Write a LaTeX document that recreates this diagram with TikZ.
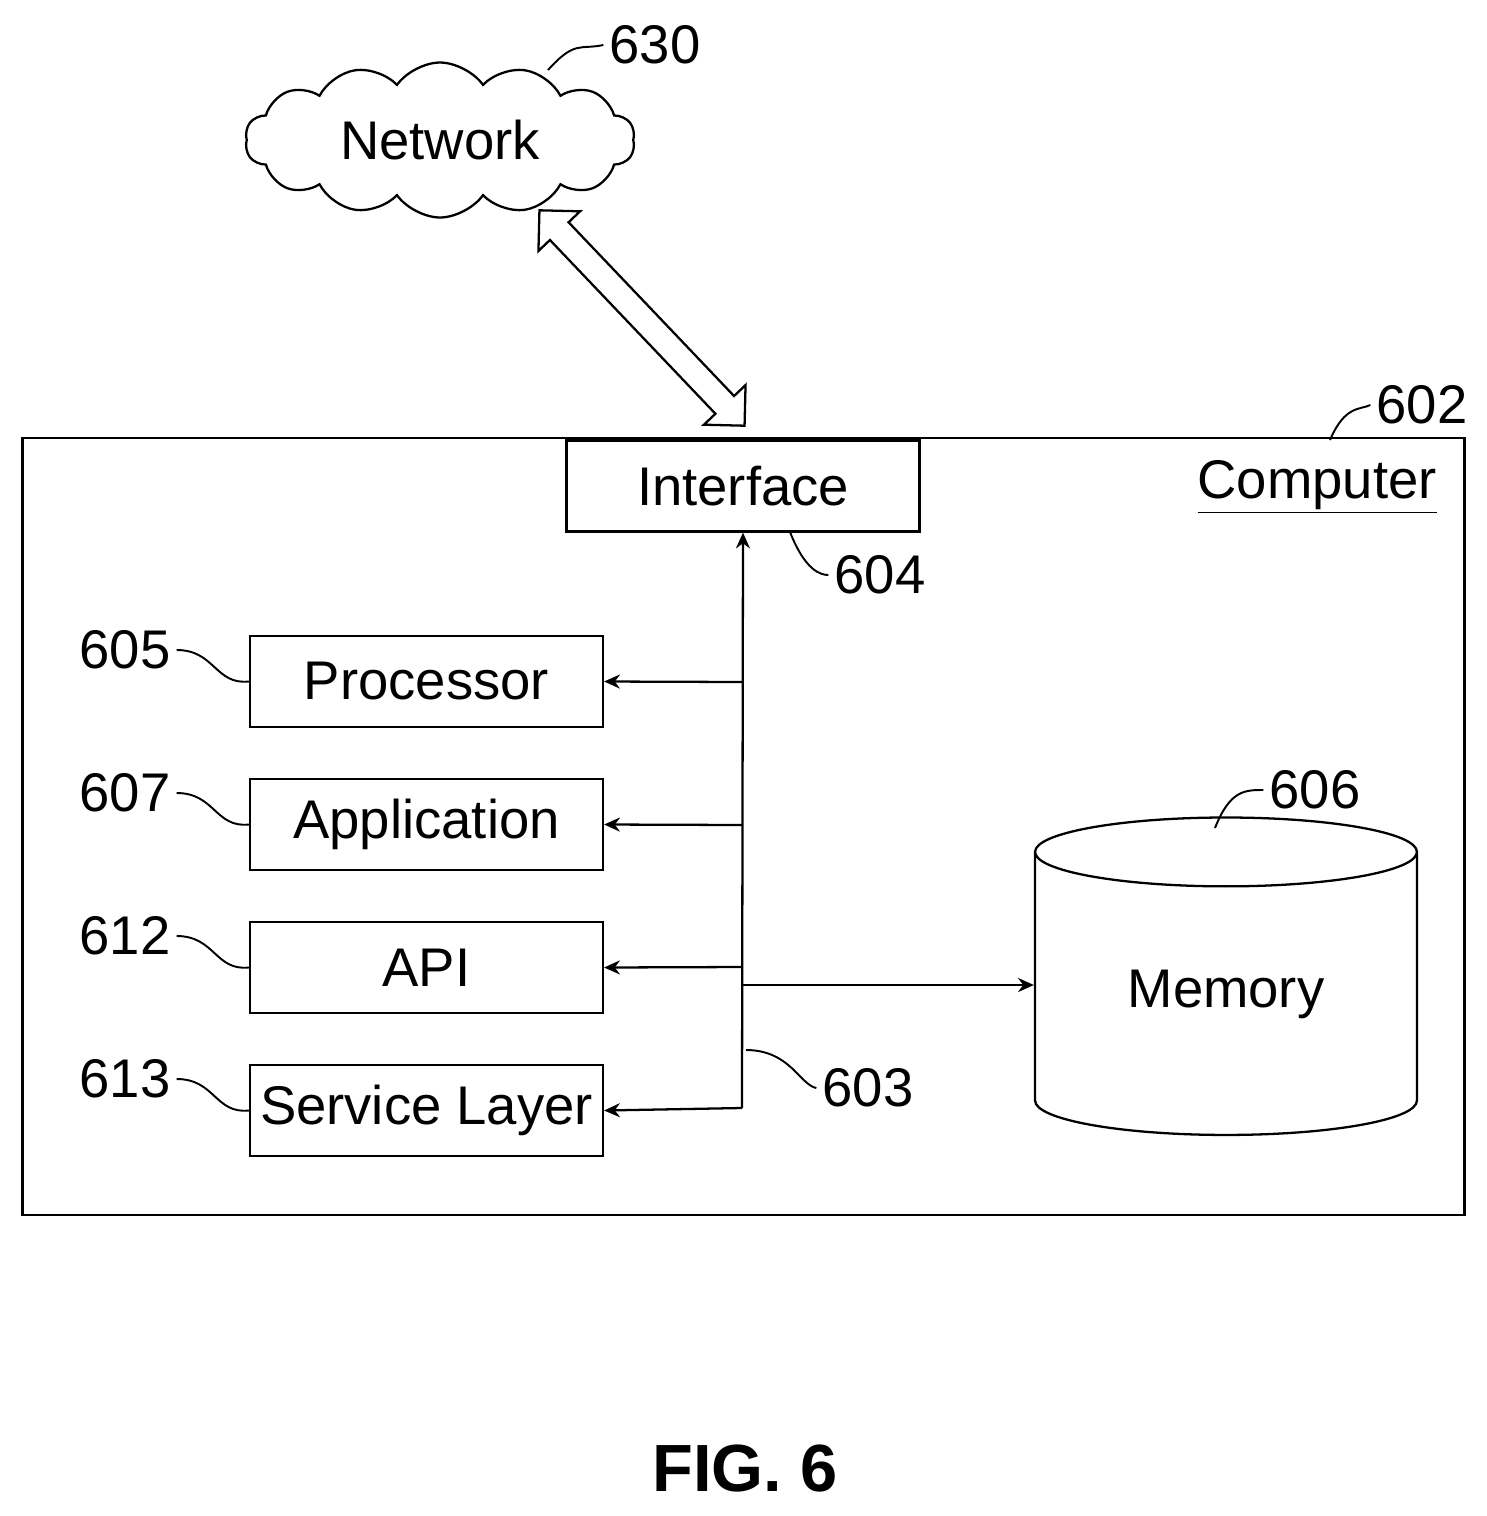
\documentclass[tikz,border=0pt]{standalone}
\usepackage{fontspec}
\setmainfont{Liberation Sans}
\usetikzlibrary{shapes.geometric, shapes.symbols, shapes.arrows, arrows.meta, positioning}
\tikzstyle{arrow} = [
    line width=1.3pt,
    -{Stealth[length=9pt,width=8pt]}
]
\tikzstyle{block} = [
    draw, line width=1.3pt, minimum width=7.06cm, minimum height=1.82cm,
    font=\fontsize{31}{37}\selectfont, inner sep=0pt
]
\tikzstyle{refnum} = [
    font=\fontsize{31}{37}\selectfont
]
\tikzstyle{lead} = [
    line width=1.1pt
]
\begin{document}
\begin{tikzpicture}[x=0.02cm, y=-0.02cm]
    \useasboundingbox (0,0) rectangle (1487,1516);
    % Network
    \node[cloud, draw, line width=1.3pt, cloud puffs=14, cloud puff arc=110, aspect=2.6,
          minimum width=7.8cm, minimum height=3.1cm,
          font=\fontsize{31}{37}\selectfont] (network) at (440,140) {Network};
    \node[refnum] (n630) at (655,45) {630};
    \draw[lead] (548,70) .. controls (575,40) and (580,50) .. (n630.west);
    % Link
    \node[double arrow, draw, line width=1.3pt, rotate=-46.4, minimum height=5.95cm,
          minimum width=1.15cm, double arrow head extend=0.3cm, inner xsep=0pt,
          inner ysep=0.22cm] (link) at (642,318) {};
    % Computer
    \node[draw, line width=1.6pt, minimum width=28.86cm, minimum height=15.54cm] (computer) at (743.5,826.5) {};
    \node[font=\fontsize{31}{37}\selectfont, anchor=north east, inner sep=0pt] (complabel) at (1437,460) {\underline{Computer}};
    \node[refnum] (n602) at (1422,405) {602};
    \draw[lead] (1330,440) .. controls (1345,405) and (1360,410) .. (n602.west);
    % Interface
    \node[block] (interface) at (743,486) {Interface};
    \node[refnum] (n604) at (880,575) {604};
    \draw[lead] (790,532) .. controls (805,570) and (820,575) .. (n604.west);
    % Components
    \node[block] (processor) at (426.5,681.5) {Processor};
    \node[block] (application) at (426.5,824.5) {Application};
    \node[block] (api) at (426.5,967.5) {API};
    \node[block] (service) at (426.5,1110.5) {Service Layer};
    \foreach \name/\num/\y in {processor/605/650, application/607/793, api/612/936, service/613/1079} {
        \node[refnum] (n\num) at (125,\y) {\num};
        \draw[lead] (n\num.east) .. controls (215,\y) and (215,\y+35) .. (\name.west);
    }
    % Memory
    \node[cylinder, draw, line width=1.3pt, shape border rotate=90, aspect=0.35,
          minimum width=7.64cm, minimum height=6.35cm, inner sep=0pt,
          font=\fontsize{31}{37}\selectfont] (memory) at (1226,994) {Memory};
    \node[refnum] (n606) at (1315,790) {606};
    \draw[lead] (1215,828) .. controls (1230,790) and (1245,790) .. (n606.west);
    % Bus
    \coordinate (busbot) at (742,1108);
    \draw[arrow] (busbot) -- (interface.south);
    \draw[arrow] (742,682) -- (processor.east);
    \draw[arrow] (742,825) -- (application.east);
    \draw[arrow] (742,967) -- (api.east);
    \draw[arrow] (busbot) -- (service.east);
    \draw[arrow] (742,985) -- (memory.west |- 0,985);
    \node[refnum] (n603) at (868,1088) {603};
    \draw[lead] (746,1050) .. controls (790,1050) and (800,1085) .. (n603.west);
    % Caption
    \node[font=\bfseries\fontsize{38}{44}\selectfont] (caption) at (745,1468) {FIG. 6};
\end{tikzpicture}
\end{document}
